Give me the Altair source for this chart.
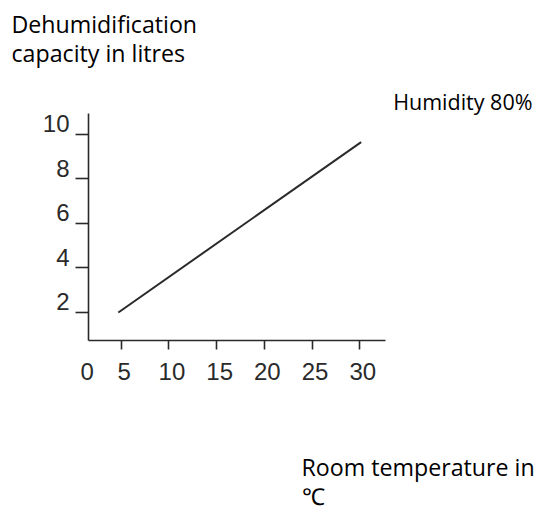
import altair as alt
import pandas as pd

# Values
temperature = [4.75, 30.2]          # room temperature, °C
capacity = [1.96, 9.63]             # dehumidification capacity, litres
series_label = "Humidity 80%"

x_ticks = [0, 5, 10, 15, 20, 25, 30]
y_ticks = [2, 4, 6, 8, 10]
x_domain = [1.57, 32.7]
y_domain = [0.72, 10.94]

y_title = ["Dehumidification", "capacity in litres"]
x_title = ["Room temperature in", "℃"]

line_df = pd.DataFrame({"t": temperature, "c": capacity})
label_df = pd.DataFrame({"t": [temperature[-1]], "c": [capacity[-1]], "label": [series_label]})

TEXT_FONT = "Open Sans"
TICK_FONT = "Liberation Sans"
INK = "#2a2a2a"

x_values = [max(v, x_domain[0]) for v in x_ticks]

x_axis = alt.Axis(
    values=x_values,
    labelExpr="datum.value < 5 ? '0' : datum.label",
    grid=False,
    domainColor=INK,
    domainWidth=1.6,
    tickColor=INK,
    tickWidth=1.6,
    tickSize=9,
    tickOpacity={"condition": {"test": "datum.value < 5", "value": 0}, "value": 1},
    labelOffset={"condition": {"test": "datum.value < 5", "value": -8}, "value": 3},
    labelFont=TICK_FONT,
    labelFontSize=24,
    labelColor=INK,
    labelPadding=11,
    title=x_title,
    titleFont=TEXT_FONT,
    titleFontSize=23.2,
    titleFontWeight="normal",
    titleColor="#000000",
    titleAlign="left",
    titleBaseline="alphabetic",
    titleAngle=0,
    titleX=213,
    titleY=135,
    titleLineHeight=29.5,
)

y_axis = alt.Axis(
    values=y_ticks,
    grid=False,
    domainColor=INK,
    domainWidth=1.6,
    tickColor=INK,
    tickWidth=1.6,
    tickSize=13,
    labelFont=TICK_FONT,
    labelFontSize=24,
    labelColor=INK,
    labelPadding=6,
    labelBaseline="alphabetic",
    labelOffset=-2,
    title=y_title,
    titleFont=TEXT_FONT,
    titleFontSize=23.2,
    titleFontWeight="normal",
    titleColor="#000000",
    titleAlign="left",
    titleBaseline="alphabetic",
    titleAngle=0,
    titleX=-77,
    titleY=-81,
    titleLineHeight=29.3,
)

x_enc = alt.X("t:Q", scale=alt.Scale(domain=x_domain, nice=False, zero=False), axis=x_axis)
y_enc = alt.Y("c:Q", scale=alt.Scale(domain=y_domain, nice=False, zero=False), axis=y_axis)

line = alt.Chart(line_df).mark_line(color=INK, strokeWidth=2).encode(x=x_enc, y=y_enc)

label = alt.Chart(label_df).mark_text(
    align="left", baseline="alphabetic", dx=32, dy=-32,
    font=TEXT_FONT, fontSize=21.5, color="#000000",
).encode(x="t:Q", y="c:Q", text="label:N")

chart = alt.layer(line, label).properties(
    width=297,
    height=227,
    autosize=alt.AutoSizeParams(type="none"),
    padding={"left": 80, "top": 105, "right": 154, "bottom": 172},
).configure_view(strokeWidth=0)

chart.save("out.html", embed_options={"renderer": "svg", "actions": False})
